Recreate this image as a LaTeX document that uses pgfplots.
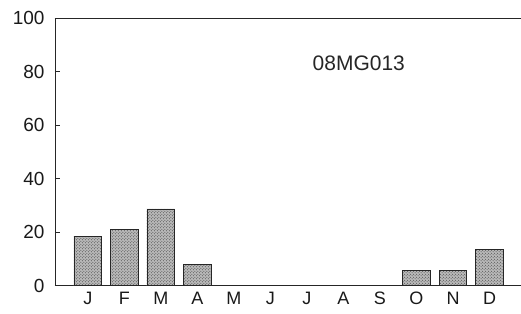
\documentclass[border=0pt]{standalone}
\usepackage{pgfplots}
\pgfplotsset{compat=1.18}
\usepackage{fontspec}
\setmainfont{Liberation Sans}
\usetikzlibrary{patterns,calc}
\begin{document}
\begin{tikzpicture}
\begin{axis}[
  name=ax,
  scale only axis,
  width=466pt, height=268pt,
  xmin=0.1, xmax=12.85,
  ymin=0, ymax=100,
  axis x line=bottom, axis y line=left,
  axis line style={-, line width=0.9pt, black!85},
  ytick={0,20,40,60,80,100},
  yticklabels={0,20,40,60,80,100},
  ytick pos=left,
  tick align=inside,
  major tick length=5pt,
  tick style={line width=0.8pt, black!85},
  xtick={1,...,12},
  xticklabels={J,F,M,A,M,J,J,A,S,O,N,D},
  xtick style={draw=none},
  yticklabel style={font=\fontsize{19}{22}\selectfont, text=black!90, xshift=-7pt},
  xticklabel style={font=\fontsize{18}{21}\selectfont, text=black!90, yshift=-3pt},
  clip=false,
]
\addplot[ybar, bar width=0.76, fill=gray!55, draw=black!85, line width=0.8pt,
  postaction={pattern=crosshatch dots, pattern color=black!75}]
  coordinates {(1,18.5) (2,21) (3,28.7) (4,8.0) (5,0) (6,0) (7,0) (8,0) (9,0) (10,5.8) (11,5.8) (12,13.5)};
\draw[line width=0.9pt, black!85] (rel axis cs:0,1) -- (rel axis cs:1,1);
\node[font=\fontsize{21}{25}\selectfont, text=black!85] at (axis cs:8.42,83) {08MG013};
\end{axis}
\useasboundingbox ($(ax.south west)+(-55pt,-27.5pt)$) rectangle ($(ax.north east)+(0,18pt)$);
\end{tikzpicture}
\end{document}
